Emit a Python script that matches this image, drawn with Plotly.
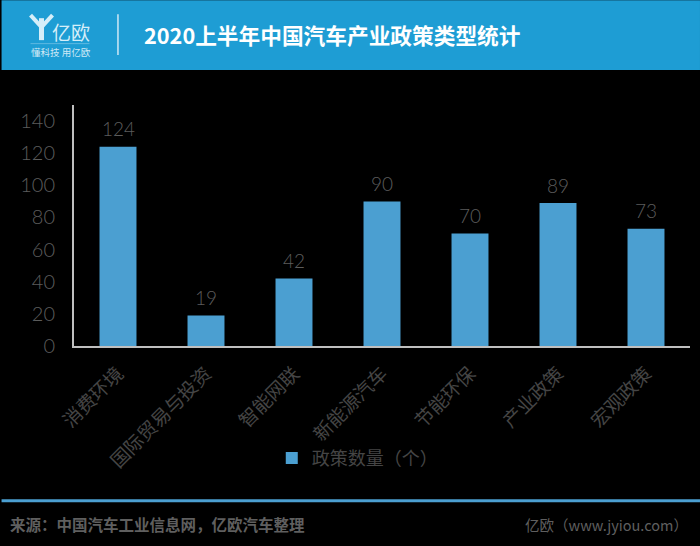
import plotly.graph_objects as go

categories = ["消费环境", "国际贸易与投资", "智能网联", "新能源汽车", "节能环保", "产业政策", "宏观政策"]
values = [124, 19, 42, 90, 70, 89, 73]
y_ticks = [0, 20, 40, 60, 80, 100, 120, 140]

W, H = 700, 546
L, R, T, B = 73.5, 690, 105, 346.5
FONT = "Noto Sans CJK SC"
NUM_FONT = "Lato"
GREY = "#454545"
NUM_GREY = "#5c5c5c"
BLUE = "#4b9fd1"


def px(x):
    return (x - L) / (R - L)


def py(y):
    return (B - y) / (B - T)


def rect(x0, y0, x1, y1, color):
    return dict(type="rect", xref="paper", yref="paper", x0=px(x0), x1=px(x1),
                y0=py(y0), y1=py(y1), fillcolor=color, line_width=0, layer="below")


def line(x0, y0, x1, y1, color, width):
    return dict(type="line", xref="paper", yref="paper", x0=px(x0), x1=px(x1),
                y0=py(y0), y1=py(y1), line=dict(color=color, width=width))


def label(x, y, text, size, color, anchor="left", weight=None):
    return dict(xref="paper", yref="paper", x=px(x), y=py(y), text=text, showarrow=False,
                xanchor=anchor, yanchor="middle",
                font=dict(family=FONT, size=size, color=color, weight=weight))


fig = go.Figure(go.Bar(
    x=categories,
    y=values,
    name="政策数量（个）",
    marker=dict(color=BLUE, line_width=0),
    showlegend=True,
))

# header band, logo bits, footer rule
shapes = [
    rect(1, 0, 700, 70, "#1e9dd4"),
    line(117.5, 14, 117.5, 55, "#cfe9f6", 1.5),
    line(30, 43.5, 89, 43.5, "#5fb8e0", 1),
    line(41, 18, 41, 40, "#d5eef9", 5),
    line(30, 15, 41, 27, "#d5eef9", 4),
    line(52, 15, 41, 27, "#d5eef9", 4),
    rect(1, 500, 700, 503, BLUE),
]

annotations = [
    label(49, 31, "亿欧", 19, "#d5eef9"),
    label(28, 52, "懂科技 用亿欧", 9.5, "#cfe9f6"),
    label(142, 34, "2020上半年中国汽车产业政策类型统计", 21.7, "#ffffff", weight="bold"),
    label(7, 525, "来源：中国汽车工业信息网，亿欧汽车整理", 15.5, "#5f5f5f", weight="bold"),
    label(523, 525, "亿欧（www.jyiou.com）", 14.5, "#5f5f5f"),
]

# value labels sit a little higher than textposition="outside" allows
for cat, val in zip(categories, values):
    annotations.append(dict(
        x=cat, y=val, text=str(val), showarrow=False, yanchor="middle", yshift=18,
        font=dict(family=NUM_FONT, size=19, color=NUM_GREY, weight=300),
    ))

fig.update_layout(
    width=W,
    height=H,
    margin=dict(l=L, r=W - R, t=T, b=H - B, pad=0, autoexpand=False),
    paper_bgcolor="#000000",
    plot_bgcolor="#000000",
    font=dict(family=FONT, color=GREY),
    bargap=0.58,
    shapes=shapes,
    annotations=annotations,
    legend=dict(
        x=px(357), y=py(459), xanchor="center", yanchor="middle",
        bgcolor="rgba(0,0,0,0)", font=dict(family=FONT, size=18, color=GREY),
    ),
    xaxis=dict(
        tickangle=-45,
        tickfont=dict(family=FONT, size=19, color=GREY),
        showline=True, linecolor="#bfbfbf", linewidth=2,
        showgrid=False, ticks="", ticklabelstandoff=7,
    ),
    yaxis=dict(
        range=[0, 150],
        tickvals=y_ticks,
        tickfont=dict(family=NUM_FONT, size=20, color=NUM_GREY, weight=300),
        showline=True, linecolor="#bfbfbf", linewidth=2,
        showgrid=False, zeroline=False, ticks="", ticklabelstandoff=13,
    ),
)

# body margin would push the chart 8px off the window corner
fig.write_html("out.html", config=dict(displayModeBar=False),
               post_script="document.body.style.margin='0';")
